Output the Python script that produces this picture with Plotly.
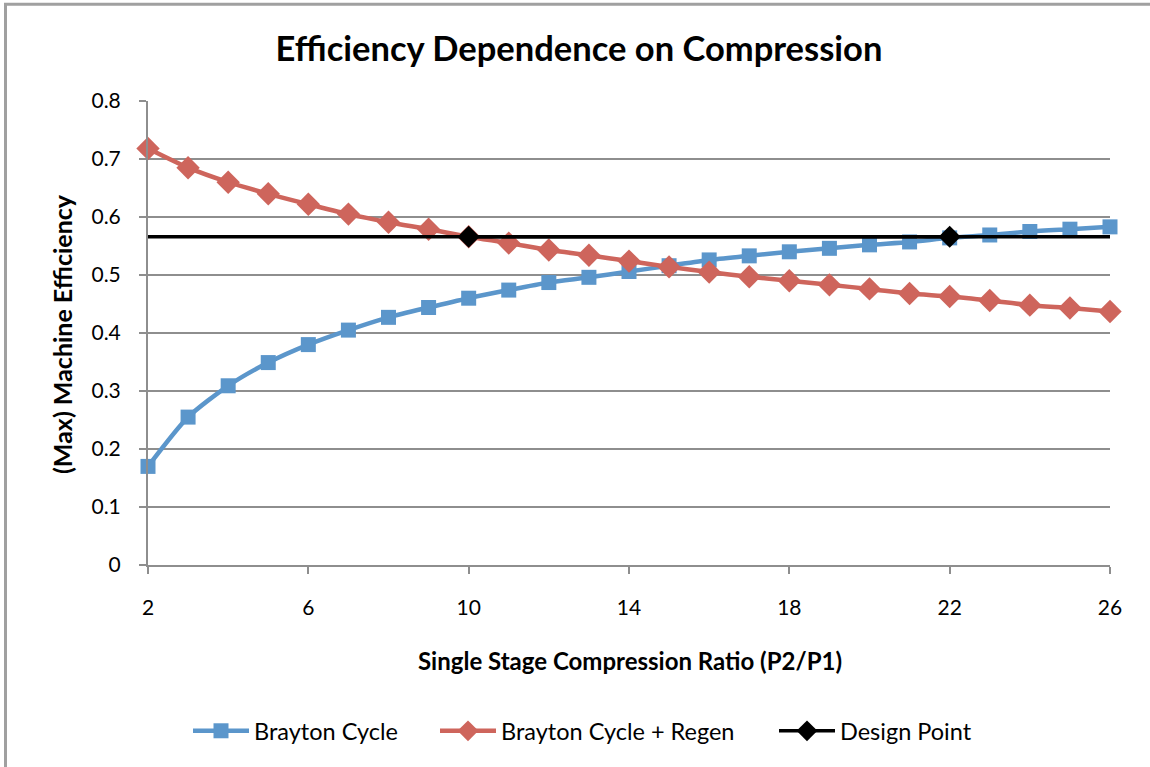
import plotly.graph_objects as go

# Compression ratio P2/P1
ratio = list(range(2, 27))

# Max machine efficiency, simple Brayton cycle
brayton = [0.170, 0.255, 0.309, 0.349, 0.380, 0.405, 0.427, 0.444, 0.460,
           0.474, 0.487, 0.496, 0.506, 0.516, 0.526, 0.533, 0.540, 0.546,
           0.552, 0.557, 0.564, 0.569, 0.575, 0.579, 0.583]

# Max machine efficiency, Brayton cycle with regeneration
regen = [0.718, 0.685, 0.660, 0.640, 0.622, 0.605, 0.591, 0.579, 0.566,
         0.555, 0.543, 0.534, 0.524, 0.514, 0.505, 0.497, 0.490, 0.483,
         0.476, 0.468, 0.463, 0.456, 0.448, 0.443, 0.437]

# Design point efficiency and where it meets each curve
design_eff = 0.566
design_span = [2, 26]
design_ratios = [10, 22]

BLUE = "#5b96cb"
RED = "#ce655c"
GREY = "#8e8e8e"
FONT = "Lato, 'Open Sans', sans-serif"

# Plot-area pixel geometry (used to place paper-referenced items)
L, R, T, B = 148, 1110, 101, 565
W, H = R - L, B - T


def px_x(px):
    return (px - L) / W


def px_y(py):
    return (B - py) / H


fig = go.Figure()

fig.add_trace(go.Scatter(
    x=ratio, y=brayton, name="Brayton Cycle", mode="lines+markers",
    line=dict(color=BLUE, width=4.5, shape="spline", smoothing=0.7),
    marker=dict(symbol="square", size=15, color=BLUE),
    cliponaxis=False, legend="legend",
))

fig.add_trace(go.Scatter(
    x=ratio, y=regen, name="Brayton Cycle + Regen", mode="lines+markers",
    line=dict(color=RED, width=4.5, shape="spline", smoothing=0.7),
    marker=dict(symbol="diamond", size=18, color=RED),
    cliponaxis=False, legend="legend2",
))

fig.add_trace(go.Scatter(
    x=design_span, y=[design_eff] * len(design_span), mode="lines",
    line=dict(color="black", width=3.5), showlegend=False, hoverinfo="skip",
    cliponaxis=False,
))

fig.add_trace(go.Scatter(
    x=design_ratios, y=[design_eff] * len(design_ratios), name="Design Point",
    mode="lines+markers",
    line=dict(color="black", width=3.5),
    marker=dict(symbol="diamond", size=17, color="black"),
    cliponaxis=False, legend="legend3",
))

axis_common = dict(
    showline=True, linecolor=GREY, linewidth=2,
    ticks="outside", ticklen=7, tickwidth=2, tickcolor=GREY,
    tickfont=dict(family=FONT, size=21, color="black"),
    zeroline=False,
)

fig.update_xaxes(
    range=[2, 26], tick0=2, dtick=4, showgrid=False,
    ticklabelstandoff=16, **axis_common,
)
fig.update_yaxes(
    range=[0, 0.8], tick0=0, dtick=0.1, showgrid=True,
    gridcolor=GREY, gridwidth=2, ticklabelstandoff=14, **axis_common,
)


def legend_at(left_px):
    return dict(
        orientation="h", x=px_x(left_px), xanchor="left",
        y=px_y(731), yanchor="middle", itemwidth=56,
        font=dict(family=FONT, size=23.5, color="black"),
        bgcolor="rgba(0,0,0,0)", borderwidth=0,
    )


fig.update_layout(
    width=1150, height=767,
    margin=dict(l=L, r=1150 - R, t=T, b=767 - B, pad=0),
    paper_bgcolor="white", plot_bgcolor="white",
    title=dict(
        text="<b>Efficiency Dependence on Compression</b>",
        x=579 / 1150, xanchor="center", y=1 - 49 / 767, yanchor="middle",
        xref="container", yref="container",
        font=dict(family=FONT, size=34.5, color="black"),
    ),
    legend=legend_at(188),
    legend2=legend_at(435),
    legend3=legend_at(774),
    annotations=[
        dict(text="<b>Single Stage Compression Ratio (P2/P1)</b>",
             xref="paper", yref="paper", x=px_x(630), y=px_y(660),
             xanchor="center", yanchor="middle", showarrow=False,
             font=dict(family=FONT, size=24, color="black")),
        dict(text="<b>(Max) Machine Efficiency</b>",
             xref="paper", yref="paper", x=px_x(62), y=px_y(334),
             xanchor="center", yanchor="middle", showarrow=False,
             textangle=-90,
             font=dict(family=FONT, size=25, color="black")),
    ],
    shapes=[
        dict(type="rect", xref="paper", yref="paper",
             x0=px_x(5.5), x1=px_x(1155), y0=px_y(775), y1=px_y(4.3),
             line=dict(color="#a0a0a0", width=3), layer="below"),
    ],
)

fig.write_html("out.html")
